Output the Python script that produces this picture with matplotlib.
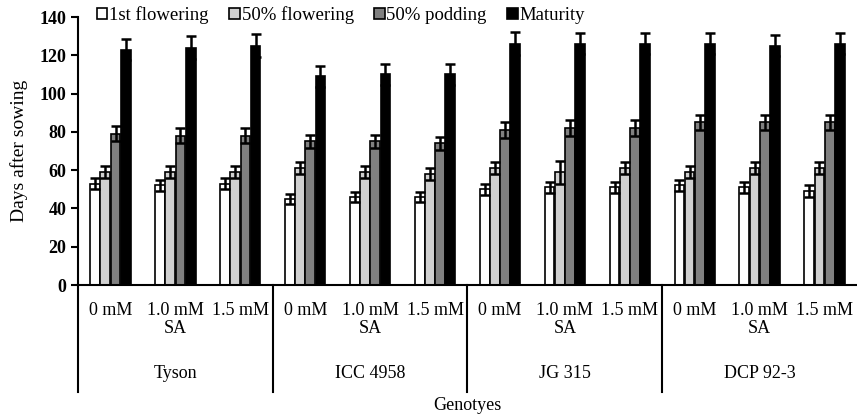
import numpy as np
import matplotlib
matplotlib.use("Agg")
import matplotlib.pyplot as plt

plt.rcParams['font.family'] = ['Liberation Serif', 'DejaVu Serif']

genotypes = ['Tyson', 'ICC 4958', 'JG 315', 'DCP 92-3']
doses = ['0 mM', '1.0 mM', '1.5 mM']
series = ['1st flowering', '50% flowering', '50% podding', 'Maturity']

# values per (genotype, dose) in reading order
first_flow = [53, 52, 53, 45, 46, 46, 50, 51, 51, 52, 51, 49]
half_flow = [59, 59, 59, 61, 59, 58, 61, 59, 61, 59, 61, 61]
half_pod = [79, 78, 78, 75, 75, 74, 81, 82, 82, 85, 85, 85]
maturity = [123, 124, 125, 109, 110, 110, 126, 126, 126, 126, 125, 126]

err_first = [3, 3, 3, 2.5, 2.5, 2.5, 3, 3, 3, 3, 3, 3]
err_half = [3, 3, 3, 3, 3, 3, 3, 6, 3, 3, 3, 3]
err_pod = [4, 4, 4, 3.5, 3.5, 3.5, 4, 4, 4, 4, 4, 4]
err_mat = [5.5, 6, 6, 5.5, 5.5, 5.5, 6, 5.5, 5.5, 5.5, 5.5, 5.5]

colors = ['white', '#d0d0d0', '#808080', 'black']

fig = plt.figure(figsize=(8.57, 4.17), dpi=100)
ax = fig.add_axes([78/857, 132/417, 779/857, 268/417])

x = np.arange(len(first_flow))
w = 0.15
step = 0.157
data = [first_flow, half_flow, half_pod, maturity]
errs = [err_first, err_half, err_pod, err_mat]
for i in range(4):
    ax.bar(x + (i - 1.5)*step, data[i], w, color=colors[i], edgecolor='black',
           linewidth=1.2, label=series[i],
           yerr=errs[i], capsize=3.5,
           error_kw=dict(ecolor='black', elinewidth=1.8, capthick=1.8))

ax.set_xlim(-0.5, 11.5)
ax.set_ylim(0, 140)
ax.set_yticks(range(0, 141, 20))
ax.set_xticks([])
ax.spines['top'].set_visible(False)
ax.spines['right'].set_visible(False)
ax.spines['left'].set_linewidth(1.5)
ax.spines['bottom'].set_linewidth(1.5)
ax.tick_params(axis='y', direction='out', length=5, width=1.5, labelsize=13)
for t in ax.get_yticklabels():
    t.set_fontweight('bold')
ax.set_ylabel('Days after sowing', fontsize=14)
ax.yaxis.set_label_coords(-0.064, 0.5)

# lower category structure
trans = ax.get_xaxis_transform()
for xs in [-0.5, 2.5, 5.5, 8.5]:
    ax.plot([xs, xs], [0, -0.40], color='black', lw=1.5, transform=trans, clip_on=False)
for j in range(len(x)):
    ax.text(x[j], -0.097, doses[j % 3], transform=trans, ha='center', va='center', fontsize=13)
for g in range(4):
    ax.text(3*g + 1, -0.164, 'SA', transform=trans, ha='center', va='center', fontsize=13)
    ax.text(3*g + 1, -0.332, genotypes[g], transform=trans, ha='center', va='center', fontsize=13)
ax.text(0.5, -0.448, 'Genotyes', transform=ax.transAxes, ha='center', va='center', fontsize=13)

ax.legend(ncol=4, loc='center left', bbox_to_anchor=(97/857, 1 - 15/417),
          bbox_transform=fig.transFigure, frameon=False, fontsize=13.5,
          handlelength=0.55, handleheight=0.55, handletextpad=0.1,
          columnspacing=1.1, borderpad=0, borderaxespad=0)

fig.savefig('out.png', dpi=100)
